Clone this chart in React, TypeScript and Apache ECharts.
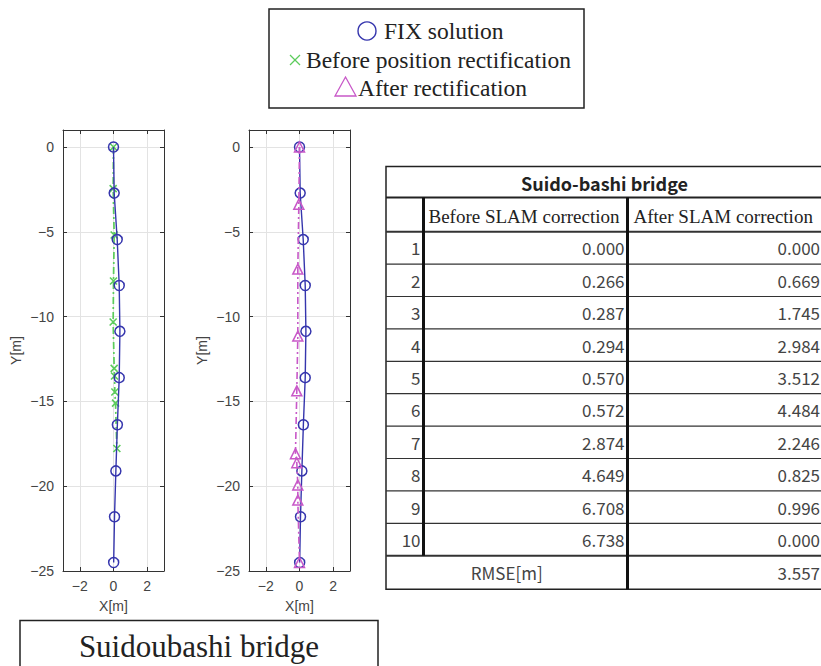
import React, { useEffect, useRef } from 'react';
import * as echarts from 'echarts';

// FIX solution (blue circles)
const fixX = [0, 0.04, 0.22, 0.34, 0.38, 0.34, 0.23, 0.14, 0.06, 0.01];
const fixY = [0, -2.72, -5.46, -8.17, -10.87, -13.6, -16.38, -19.1, -21.8, -24.5];
// Before position rectification (green x)
const beforeX = [0, -0.02, 0.04, 0, -0.02, 0.04, 0.06, 0.08, 0.12, 0.2];
const beforeY = [0, -2.46, -5.19, -7.9, -10.32, -13.05, -13.5, -14.45, -15.1, -17.78];
// After rectification (magenta triangles)
const afterX = [0, -0.04, -0.1, -0.1, -0.16, -0.24, -0.16, -0.1, -0.1, 0];
const afterY = [0, -3.38, -7.2, -11.15, -14.38, -18.08, -18.62, -19.93, -20.82, -24.5];

// Table
const tableTitle = 'Suido-bashi bridge';
const colHeaders = ['Before SLAM correction', 'After SLAM correction'];
const rowIds = ['1', '2', '3', '4', '5', '6', '7', '8', '9', '10'];
const beforeErr = ['0.000', '0.266', '0.287', '0.294', '0.570', '0.572', '2.874', '4.649', '6.708', '6.738'];
const afterErr = ['0.000', '0.669', '1.745', '2.984', '3.512', '4.484', '2.246', '0.825', '0.996', '0.000'];
const rmseLabel = 'RMSE[m]';
const rmseAfter = '3.557';

const legendLabels = ['FIX solution', 'Before position rectification', 'After rectification'];
const bottomLabel = 'Suidoubashi bridge';

const BLUE = '#3535ad';
const GREEN = '#5ccc5c';
const MAGENTA = '#c858c8';
const AXIS = '#333333';
const SERIF = '"Liberation Serif", "Times New Roman", serif';
const SANS = '"Liberation Sans", Arial, sans-serif';
const JP = '"Noto Sans CJK JP", "Noto Sans", sans-serif';

const fmtMinus = (v: number) => String(v).replace('-', '\u2212');

function pairs(xs: number[], ys: number[]) {
  return xs.map((x, i) => [x, ys[i]]);
}

export default function App() {
  const ref = useRef<HTMLDivElement>(null);
  useEffect(() => {
    if (!ref.current) return;
    const chart = echarts.init(ref.current, undefined, { renderer: 'svg' });

    const grids = [
      { left: 63, top: 130, width: 101, height: 441 },
      { left: 249, top: 130, width: 101, height: 441 },
    ];

    const xAxes: any[] = [];
    const yAxes: any[] = [];
    grids.forEach((_, gi) => {
      xAxes.push({
        type: 'value', gridIndex: gi, position: 'bottom', min: -3, max: 3, splitNumber: 3,
        name: 'X[m]', nameLocation: 'middle', nameGap: 28,
        nameTextStyle: { fontFamily: SANS, fontSize: 14, color: '#444' },
        axisLine: { show: true, onZero: false, lineStyle: { color: AXIS, width: 1 } },
        axisTick: { show: true, inside: true, length: 4, lineStyle: { color: AXIS } },
        axisLabel: { fontFamily: SANS, fontSize: 14, color: '#444', margin: 8, showMinLabel: false, showMaxLabel: false, formatter: fmtMinus },
        splitLine: { show: true, lineStyle: { color: '#e3e3e3', width: 1 } },
      });
      xAxes.push({
        type: 'value', gridIndex: gi, position: 'top', min: -3, max: 3, splitNumber: 3,
        axisLine: { show: true, onZero: false, lineStyle: { color: AXIS, width: 1 } },
        axisTick: { show: true, inside: true, length: 4, lineStyle: { color: AXIS } },
        axisLabel: { show: false }, splitLine: { show: false },
      });
      yAxes.push({
        type: 'value', gridIndex: gi, position: 'left', min: -25, max: 1, interval: 5,
        name: 'Y[m]', nameLocation: 'middle', nameGap: 40, nameRotate: 90,
        nameTextStyle: { fontFamily: SANS, fontSize: 14, color: '#444' },
        axisLine: { show: true, onZero: false, lineStyle: { color: AXIS, width: 1 } },
        axisTick: { show: true, inside: true, length: 4, lineStyle: { color: AXIS } },
        axisLabel: { fontFamily: SANS, fontSize: 14, color: '#444', margin: 9, showMaxLabel: false, formatter: fmtMinus },
        splitLine: { show: true, lineStyle: { color: '#e3e3e3', width: 1 } },
      });
      yAxes.push({
        type: 'value', gridIndex: gi, position: 'right', min: -25, max: 1, interval: 5,
        axisLine: { show: true, onZero: false, lineStyle: { color: AXIS, width: 1 } },
        axisTick: { show: true, inside: true, length: 4, lineStyle: { color: AXIS } },
        axisLabel: { show: false }, splitLine: { show: false },
      });
    });

    const xSymbol = 'path://M0,0L10,10M10,0L0,10';

    const fixSeries = (gi: number) => ({
      type: 'line', name: legendLabels[0], xAxisIndex: gi * 2, yAxisIndex: gi * 2,
      data: pairs(fixX, fixY), symbol: 'circle', symbolSize: 10, z: 3,
      lineStyle: { color: BLUE, width: 1.4 },
      itemStyle: { color: 'rgba(0,0,0,0)', borderColor: BLUE, borderWidth: 1.5 },
    });

    const series: any[] = [
      {
        type: 'line', name: legendLabels[1], xAxisIndex: 0, yAxisIndex: 0,
        data: pairs(beforeX, beforeY), symbol: xSymbol, symbolSize: 7, z: 2,
        lineStyle: { color: GREEN, width: 1.7, type: [7, 3, 2, 3] },
        itemStyle: { color: 'none', borderColor: GREEN, borderWidth: 1.6 },
      },
      fixSeries(0),
      fixSeries(1),
      {
        type: 'line', name: legendLabels[2], xAxisIndex: 2, yAxisIndex: 2,
        data: pairs(afterX, afterY), symbol: 'triangle', symbolSize: 10, z: 4,
        lineStyle: { color: MAGENTA, width: 1.6, type: [7, 3, 2, 3] },
        itemStyle: { color: 'rgba(0,0,0,0)', borderColor: MAGENTA, borderWidth: 1.5 },
      },
    ];

    // ---- graphics: legend box, table, bottom label ----
    const g: any[] = [];
    // legend
    g.push({ type: 'rect', shape: { x: 269, y: 9, width: 315, height: 99 }, style: { fill: '#fff', stroke: '#222', lineWidth: 1.5 }, z: 10 });
    g.push({ type: 'circle', shape: { cx: 367, cy: 31, r: 9 }, style: { fill: 'none', stroke: BLUE, lineWidth: 1.4 }, z: 11 });
    g.push({ type: 'text', x: 384, y: 31, style: { text: legendLabels[0], font: `23.5px ${SERIF}`, fill: '#222', verticalAlign: 'middle' }, z: 11 });
    g.push({ type: 'line', shape: { x1: 290, y1: 55, x2: 300, y2: 65 }, style: { stroke: GREEN, lineWidth: 1.3 }, z: 11 });
    g.push({ type: 'line', shape: { x1: 300, y1: 55, x2: 290, y2: 65 }, style: { stroke: GREEN, lineWidth: 1.3 }, z: 11 });
    g.push({ type: 'text', x: 306, y: 60, style: { text: legendLabels[1], font: `23.5px ${SERIF}`, fill: '#222', verticalAlign: 'middle' }, z: 11 });
    g.push({ type: 'polygon', shape: { points: [[345.5, 77], [356, 96], [335, 96]] }, style: { fill: 'none', stroke: MAGENTA, lineWidth: 1.3 }, z: 11 });
    g.push({ type: 'text', x: 358, y: 88, style: { text: legendLabels[2], font: `23.5px ${SERIF}`, fill: '#222', verticalAlign: 'middle' }, z: 11 });

    // bottom label
    g.push({ type: 'rect', shape: { x: 20, y: 620.5, width: 358, height: 60 }, style: { fill: '#fff', stroke: '#222', lineWidth: 1.5 }, z: 10 });
    g.push({ type: 'text', x: 199, y: 646, style: { text: bottomLabel, font: `31px ${SERIF}`, fill: '#222', align: 'center', verticalAlign: 'middle' }, z: 11 });

    // table
    const tL = 386, tR = 823, tTop = 166.5, hTop = 197.5, dTop = 231.7, rowH = 32.4, tBot = 589.3;
    const c1 = 423.5, c2 = 627.5;
    const dEnd = dTop + rowH * rowIds.length;
    g.push({ type: 'rect', shape: { x: tL, y: tTop, width: tR - tL, height: tBot - tTop }, style: { fill: '#fff', stroke: '#222', lineWidth: 1.5 }, z: 10 });
    g.push({ type: 'line', shape: { x1: tL, y1: hTop, x2: tR, y2: hTop }, style: { stroke: '#222', lineWidth: 2 }, z: 11 });
    for (let k = 0; k <= rowIds.length; k++) {
      const y = dTop + rowH * k;
      g.push({ type: 'line', shape: { x1: tL, y1: y, x2: tR, y2: y }, style: { stroke: '#333', lineWidth: k === 0 || k === rowIds.length ? 2 : 1.2 }, z: 11 });
    }
    g.push({ type: 'line', shape: { x1: c1, y1: hTop, x2: c1, y2: dEnd }, style: { stroke: '#111', lineWidth: 3 }, z: 12 });
    g.push({ type: 'line', shape: { x1: c2, y1: hTop, x2: c2, y2: tBot }, style: { stroke: '#111', lineWidth: 3 }, z: 12 });
    g.push({ type: 'text', x: (tL + tR) / 2, y: (tTop + hTop) / 2 + 1, style: { text: tableTitle, font: `bold 18px ${JP}`, fill: '#222', align: 'center', verticalAlign: 'middle' }, z: 12 });
    g.push({ type: 'text', x: c1 + 5, y: (hTop + dTop) / 2 + 2, style: { text: colHeaders[0], font: `19px ${SERIF}`, fill: '#222', verticalAlign: 'middle' }, z: 12 });
    g.push({ type: 'text', x: c2 + 6, y: (hTop + dTop) / 2 + 2, style: { text: colHeaders[1], font: `19px ${SERIF}`, fill: '#222', verticalAlign: 'middle' }, z: 12 });
    rowIds.forEach((id, i) => {
      const cy = dTop + rowH * (i + 0.5);
      g.push({ type: 'text', x: c1 - 3, y: cy, style: { text: id, font: `17px ${JP}`, fill: '#444', align: 'right', verticalAlign: 'middle' }, z: 12 });
      g.push({ type: 'text', x: c2 - 3, y: cy, style: { text: beforeErr[i], font: `17px ${JP}`, fill: '#444', align: 'right', verticalAlign: 'middle' }, z: 12 });
      g.push({ type: 'text', x: 820, y: cy, style: { text: afterErr[i], font: `17px ${JP}`, fill: '#444', align: 'right', verticalAlign: 'middle' }, z: 12 });
    });
    const rmseY = (dEnd + tBot) / 2;
    g.push({ type: 'text', x: (tL + c2) / 2, y: rmseY, style: { text: rmseLabel, font: `17px ${JP}`, fill: '#444', align: 'center', verticalAlign: 'middle' }, z: 12 });
    g.push({ type: 'text', x: 820, y: rmseY, style: { text: rmseAfter, font: `17px ${JP}`, fill: '#444', align: 'right', verticalAlign: 'middle' }, z: 12 });

    chart.setOption({
      animation: false,
      backgroundColor: '#fff',
      grid: grids,
      xAxis: xAxes,
      yAxis: yAxes,
      series,
      graphic: g,
    });
    return () => chart.dispose();
  }, []);
  return <div ref={ref} style={{ position: 'fixed', left: 0, top: 0, width: 821, height: 666 }} />;
}
